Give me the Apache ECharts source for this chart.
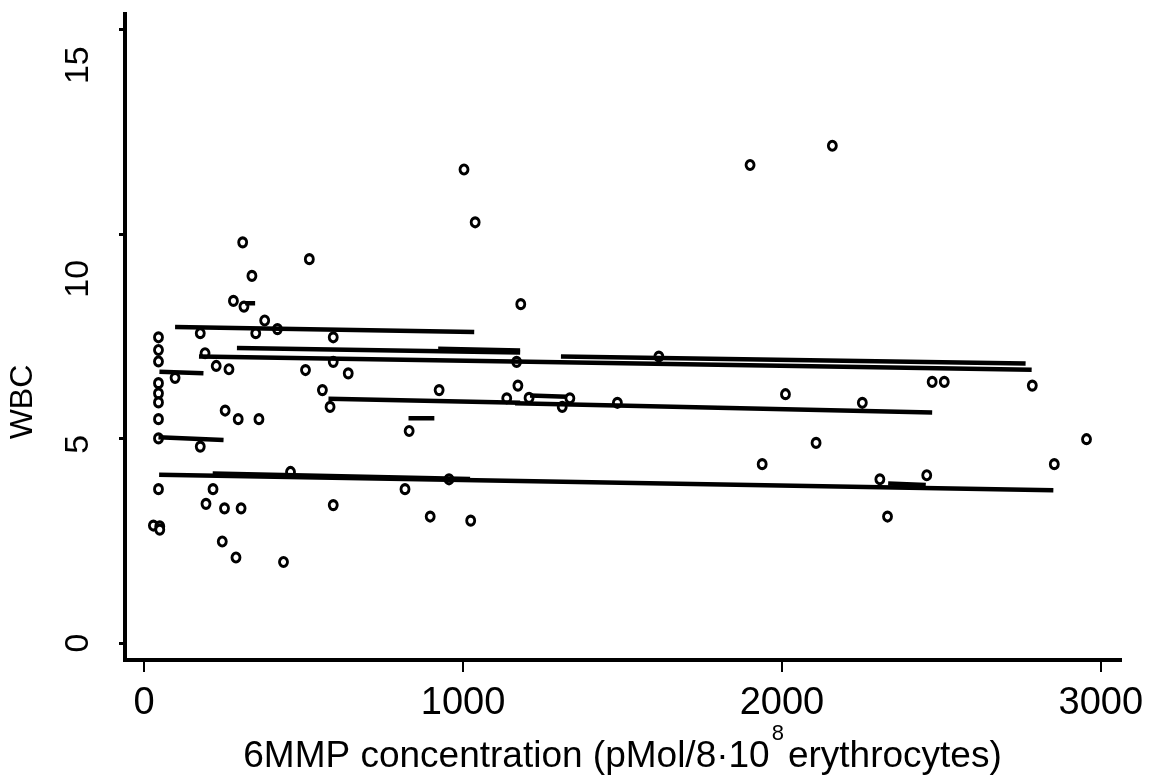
<!DOCTYPE html>
<html>
<head>
<meta charset="utf-8">
<script src="https://cdn.jsdelivr.net/npm/echarts@6/dist/echarts.min.js"></script>
<style>
html,body{margin:0;padding:0;background:#fff;}
#chart{width:1154px;height:782px;}
</style>
</head>
<body>
<div id="chart"></div>
<script>
// 6MMP concentration (x) and WBC (y) for each observation
const conc = [45,45,45,45,45,45,45,45,45,29,49,49,97,176,191,176,194,216,226,254,245,252,266,280,288,295,304,309,313,338,350,360,378,418,437,459,506,518,559,583,593,593,593,640,818,831,897,925,956,1003,1024,1038,1137,1168,1172,1181,1207,1311,1335,1484,1614,1900,1938,2011,2107,2158,2252,2307,2331,2454,2471,2509,2785,2854,2955];
const wbc  = [7.47,7.16,6.88,6.35,6.10,5.88,5.47,5.00,3.76,2.87,2.85,2.77,6.48,7.57,7.08,4.80,3.40,3.76,6.77,5.68,2.48,3.29,6.69,8.36,2.09,5.47,3.29,9.79,8.22,8.97,7.57,5.47,7.88,7.67,1.98,4.18,6.67,9.38,6.18,5.77,7.47,6.87,3.37,6.59,3.76,5.18,3.09,6.18,4.00,11.57,2.99,10.28,5.98,6.87,6.29,8.28,5.99,5.77,5.98,5.87,7.00,11.68,4.37,6.08,4.89,12.15,5.87,4.00,3.09,4.10,6.38,6.38,6.29,4.37,4.98];

// per-patient fitted lines: start and end points
const trendStartX = [97,291,922,172,1307,578,1163,1210,829,48,45,47,215,2333,317];
const trendStartY = [7.72,7.21,7.19,7.00,7.00,5.97,5.86,6.05,5.49,6.63,5.03,4.11,4.14,3.90,8.30];
const trendEndX   = [1035,1179,1179,2783,2764,1179,2471,1325,910,186,249,2851,1022,2451,348];
const trendEndY   = [7.60,7.10,7.15,6.68,6.83,5.87,5.63,6.02,5.49,6.59,4.96,3.73,4.01,3.86,8.30];

const xTicks = [0,1000,2000,3000];
const yTicks = [0,5,10,15];

const FONT = '"Liberation Sans", Arial, Helvetica, sans-serif';

const series = [{
  type: 'scatter',
  data: conc.map((x, i) => [x, wbc[i]]),
  symbol: 'circle',
  symbolSize: [8, 9],
  itemStyle: {color: '#fff', borderColor: '#000', borderWidth: 3, opacity: 1},
  z: 2,
  silent: true
}];
trendStartX.forEach((x, i) => {
  series.push({
    type: 'line',
    data: [[x, trendStartY[i]], [trendEndX[i], trendEndY[i]]],
    showSymbol: false,
    symbol: 'none',
    lineStyle: {color: '#000', width: 4.5, cap: 'butt'},
    z: 3,
    silent: true,
    animation: false
  });
});

const chart = echarts.init(document.getElementById('chart'), null, {renderer: 'canvas'});
chart.setOption({
  animation: false,
  backgroundColor: '#fff',
  grid: {left: 125, right: 34, top: 14, bottom: 122, containLabel: false, outerBoundsMode: 'none'},
  xAxis: {
    type: 'value',
    min: -60, max: 3060,
    axisLine: {show: true, onZero: false, lineStyle: {color: '#000', width: 4, cap: 'square'}},
    axisTick: {show: true, customValues: xTicks, length: 12, lineStyle: {color: '#000', width: 2}},
    axisLabel: {customValues: xTicks, fontSize: 38, lineHeight: 40, margin: 24, color: '#000', fontFamily: FONT,
      formatter: v => String(v)},
    splitLine: {show: false},
    name: '{m|6MMP concentration (pMol/8\u00B710}{s|8}{m|erythrocytes)}',
    nameLocation: 'middle',
    nameGap: 63,
    nameMoveOverlap: false,
    nameTextStyle: {
      color: '#000', fontFamily: FONT,
      rich: {
        m: {fontSize: 37, lineHeight: 68, color: '#000', fontFamily: FONT},
        s: {fontSize: 22, lineHeight: 10, verticalAlign: 'top', color: '#000', fontFamily: FONT, padding: [0, 4, 0, 2]}
      }
    }
  },
  yAxis: {
    type: 'value',
    min: -0.415, max: 15.37,
    axisLine: {show: true, onZero: false, lineStyle: {color: '#000', width: 4, cap: 'square'}},
    axisTick: {show: true, customValues: yTicks, length: 6, lineStyle: {color: '#000', width: 3}},
    axisLabel: {
      customValues: yTicks, rotate: 90, margin: 28, color: '#000', fontFamily: FONT, fontSize: 34,
      formatter: v => '{t' + v + '|' + v + '}',
      rich: {
        t0:  {fontSize: 34, lineHeight: 36, color: '#000', fontFamily: FONT},
        t5:  {fontSize: 34, lineHeight: 36, color: '#000', fontFamily: FONT, padding: [0, 12, 0, 0]},
        t10: {fontSize: 34, lineHeight: 36, color: '#000', fontFamily: FONT, padding: [0, 90, 0, 0]},
        t15: {fontSize: 34, lineHeight: 36, color: '#000', fontFamily: FONT, padding: [0, 72, 0, 0]}
      }
    },
    splitLine: {show: false},
    name: 'WBC',
    nameLocation: 'middle',
    nameRotate: 90,
    nameGap: 85,
    nameMoveOverlap: false,
    nameTextStyle: {color: '#000', fontFamily: FONT, fontSize: 32, lineHeight: 34, padding: [0, 130, 0, 0]}
  },
  series: series
});
</script>
</body>
</html>
